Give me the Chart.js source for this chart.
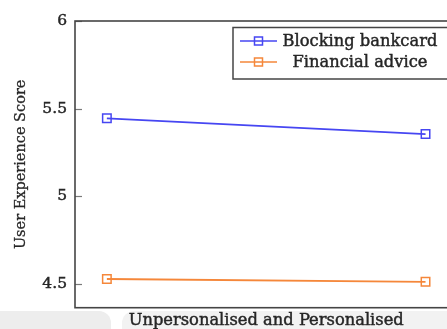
<!DOCTYPE html>
<html>
<head>
<meta charset="utf-8">
<script src="https://cdn.jsdelivr.net/npm/chart.js@4/dist/chart.umd.min.js"></script>
<style>
  html, body { margin: 0; padding: 0; background: #fff; overflow: hidden; }
  #wrap { position: relative; width: 470px; height: 329px; }
</style>
</head>
<body>
<div id="wrap"><canvas id="c"></canvas></div>
<script>
// Conditions along the x axis and mean user experience scores per scenario
const categories = ['Unpersonalised', 'Personalised'];
const seriesNames = ['Blocking bankcard', 'Financial advice'];
const blockingBankcard = [5.444, 5.354];
const financialAdvice = [4.526, 4.510];
const yTicks = [4.5, 5, 5.5, 6];
const xTitle = 'Unpersonalised and Personalised';
const yTitle = 'User Experience Score';

const BLUE = '#4646f2';
const ORANGE = '#f5873a';
const FRAME = '#454545';
const TEXT = '#262626';
const SERIF = '"DejaVu Serif", "Liberation Serif", serif';

const toPoints = vals => vals.map((v, i) => ({ x: i, y: v }));

function drawMarker(ctx, x, y, color) {
  ctx.save();
  ctx.strokeStyle = color;
  ctx.lineWidth = 1.5;
  ctx.strokeRect(x - 4, y - 4, 8, 8);
  ctx.restore();
}

// text with a thin outline in the same colour, for a slightly heavier face
function heavyText(ctx, str, x, y, w) {
  ctx.fillText(str, x, y);
  ctx.lineWidth = w;
  ctx.strokeStyle = ctx.fillStyle;
  ctx.strokeText(str, x, y);
}

// Faint grey band along the lower edge of the page
const backdrop = {
  id: 'backdrop',
  beforeDraw(chart) {
    const ctx = chart.ctx;
    ctx.save();
    ctx.fillStyle = '#ffffff';
    ctx.fillRect(0, 0, chart.width, chart.height);
    ctx.fillStyle = '#ededed';
    ctx.beginPath();
    ctx.roundRect(-20, 311, 131, 40, 12);
    ctx.fill();
    ctx.fillStyle = '#f2f2f2';
    ctx.beginPath();
    ctx.roundRect(122, 311, 400, 40, 12);
    ctx.fill();
    ctx.restore();
  }
};

// Box frame, inward ticks, axis titles and the boxed legend
const frame = {
  id: 'frame',
  afterDatasetsDraw(chart) {
    const ctx = chart.ctx;
    const a = chart.chartArea;
    const y = chart.scales.y;
    ctx.save();
    // inward tick marks on the left axis
    ctx.strokeStyle = '#7a7a7a';
    ctx.lineWidth = 1.2;
    yTicks.forEach(t => {
      const py = Math.round(y.getPixelForValue(t)) + 0.5;
      ctx.beginPath();
      ctx.moveTo(a.left, py);
      ctx.lineTo(a.left + 7, py);
      ctx.stroke();
    });
    // axis box
    ctx.strokeStyle = FRAME;
    ctx.lineWidth = 1.6;
    ctx.strokeRect(a.left, a.top, a.right - a.left, a.bottom - a.top);

    // axis titles
    ctx.fillStyle = TEXT;
    ctx.font = '16.3px ' + SERIF;
    ctx.textAlign = 'center';
    ctx.textBaseline = 'alphabetic';
    heavyText(ctx, xTitle, (a.left + a.right) / 2, 325, 0.45);
    ctx.save();
    ctx.translate(25, (a.top + a.bottom) / 2);
    ctx.rotate(-Math.PI / 2);
    ctx.font = '14.5px ' + SERIF;
    heavyText(ctx, yTitle, 0, 0, 0.3);
    ctx.restore();

    // legend
    const lx = 233, ly = 27.5, lw = 225, lh = 51.5;
    ctx.fillStyle = '#ffffff';
    ctx.fillRect(lx, ly, lw, lh);
    ctx.strokeStyle = FRAME;
    ctx.lineWidth = 1.5;
    ctx.strokeRect(lx, ly, lw, lh);
    const rows = [41, 62];
    chart.data.datasets.forEach((ds, i) => {
      const ry = rows[i];
      ctx.strokeStyle = ds.borderColor;
      ctx.lineWidth = 1.7;
      ctx.beginPath();
      ctx.moveTo(240, ry);
      ctx.lineTo(277, ry);
      ctx.stroke();
      drawMarker(ctx, 258.5, ry, ds.borderColor);
      ctx.fillStyle = TEXT;
      ctx.font = '16.3px ' + SERIF;
      ctx.textAlign = 'center';
      ctx.textBaseline = 'middle';
      heavyText(ctx, ds.label, 360, ry + 1, 0.45);
    });
    ctx.restore();
  }
};

const lineStyle = color => ({
  borderColor: color,
  backgroundColor: 'rgba(0,0,0,0)',
  borderWidth: 1.8,
  pointStyle: 'rect',
  pointRadius: 6,
  pointBorderWidth: 1.5,
  pointBackgroundColor: 'rgba(0,0,0,0)',
  tension: 0
});

new Chart(document.getElementById('c'), {
  type: 'line',
  data: {
    labels: categories,
    datasets: [
      Object.assign({ label: seriesNames[0], data: toPoints(blockingBankcard) }, lineStyle(BLUE)),
      Object.assign({ label: seriesNames[1], data: toPoints(financialAdvice) }, lineStyle(ORANGE))
    ]
  },
  options: {
    responsive: true,
    maintainAspectRatio: false,
    animation: false,
    layout: { padding: { top: 21, right: 12.6, left: 0, bottom: 0 } },
    plugins: { legend: { display: false }, tooltip: { enabled: false } },
    scales: {
      x: {
        type: 'linear',
        min: -0.1,
        max: 1.1,
        grid: { display: false, drawTicks: false },
        border: { display: false },
        ticks: { display: false },
        afterFit(s) { s.height = 21.3; }
      },
      y: {
        type: 'linear',
        min: 4.362,
        max: 6,
        grid: { display: false, drawTicks: false },
        border: { display: false },
        afterBuildTicks(s) { s.ticks = yTicks.map(v => ({ value: v })); },
        ticks: {
          color: TEXT,
          padding: 8,
          font: { family: SERIF, size: 15.5 },
          textStrokeColor: TEXT,
          textStrokeWidth: 0.45,
          callback: v => String(v)
        },
        afterFit(s) { s.width = 75; }
      }
    }
  },
  plugins: [backdrop, frame]
});
</script>
</body>
</html>
